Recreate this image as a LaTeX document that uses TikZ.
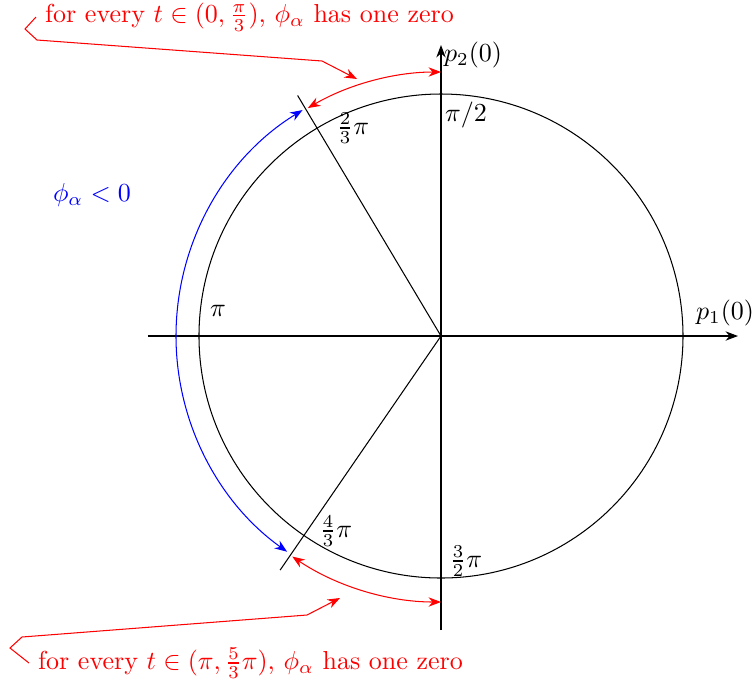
\documentclass[tikz,border=0pt]{standalone}
\usepackage{amsmath}
\usepackage{amssymb}
\usepackage{xcolor}
\usetikzlibrary{arrows.meta, positioning}

\begin{document}
\begin{tikzpicture}[x=0.3846pt, y=0.3846pt, every node/.style={font=\normalsize}]
\useasboundingbox (-441,-349) rectangle (315,336);
% axes and circle
\coordinate (o) at (0,0);
\coordinate (xl) at (-293,0);
\coordinate (xr) at (297,0);
\coordinate (yb) at (0,-294);
\coordinate (yt) at (0,291);
\draw[-Stealth] (xl)--(xr);
\draw[-Stealth] (yb)--(yt);
\draw (o) circle (242);
\coordinate (a) at (120.8:280);
\coordinate (b) at (235.5:284);
\draw (o)--(a);
\draw (o)--(b);
% labels
\node (p2) at (32,281) {$p_2(0)$};
\node (p1) at (284,23) {$p_1(0)$};
\node (halfpi) at (25,221) {$\pi/2$};
\node (twothird) at (-88,208) {$\frac{2}{3}\pi$};
\node (pi) at (-223,25) {$\pi$};
\node (fourthird) at (-105,-195) {$\frac{4}{3}\pi$};
\node (threehalf) at (25,-225) {$\frac{3}{2}\pi$};
\node[blue] (neg) at (-349,141) {$\phi_\alpha<0$};
% arcs
\draw[blue, Stealth-Stealth] (121.5:265) arc[start angle=121.5, end angle=234.5, radius=265];
\draw[red, Stealth-Stealth] (90:264) arc[start angle=90, end angle=120.3, radius=264];
\draw[red, Stealth-Stealth] (236:266) arc[start angle=236, end angle=270, radius=266];
% notes
\node[red, anchor=west] (topnote) at (-405,319) {for every $t\in(0,\frac{\pi}{3})$, $\phi_\alpha$ has one zero};
\node[red, anchor=west] (botnote) at (-412,-327) {for every $t\in(\pi,\frac{5}{3}\pi)$, $\phi_\alpha$ has one zero};
\coordinate (topend) at (-84,257);
\coordinate (botend) at (-101,-262);
\draw[red, -Stealth] (topnote.west) -- (-416,307) -- (-404,296) -- (-119,275) -- (topend);
\draw[red, -Stealth] (botnote.west) -- (-431,-312) -- (-419,-301) -- (-134,-279) -- (botend);
\end{tikzpicture}
\end{document}
